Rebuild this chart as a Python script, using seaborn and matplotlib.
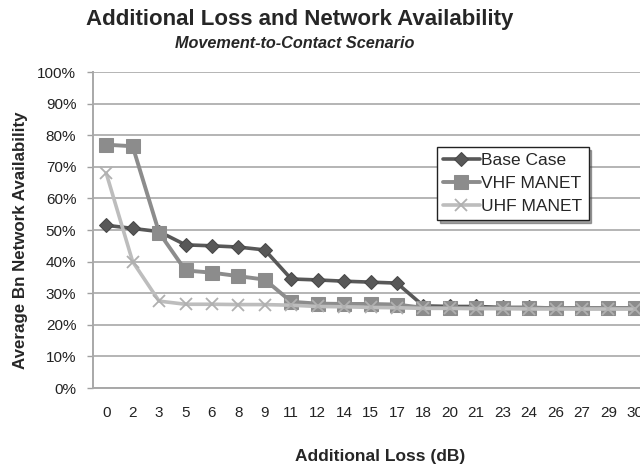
import matplotlib
matplotlib.use("Agg")
import matplotlib.pyplot as plt
import seaborn as sns
import numpy as np
import pandas as pd
from matplotlib.ticker import PercentFormatter

# Additional loss steps (dB) shown as category labels
loss_db = ["0", "2", "3", "5", "6", "8", "9", "11", "12", "14", "15",
           "17", "18", "20", "21", "23", "24", "26", "27", "29", "30"]

# Average battalion network availability (%)
base_case = [51.5, 50.5, 49.5, 45.3, 45.0, 44.6, 43.7, 34.5, 34.2, 33.8, 33.5,
             33.2, 26.0, 25.8, 25.8, 25.5, 25.5, 25.3, 25.3, 25.3, 25.3]
vhf_manet = [77.0, 76.5, 49.2, 37.2, 36.5, 35.4, 34.3, 27.3, 26.7, 26.6, 26.6,
             26.4, 25.4, 25.3, 25.3, 25.3, 25.3, 25.3, 25.2, 25.2, 25.2]
uhf_manet = [68.0, 40.0, 27.5, 26.5, 26.5, 26.4, 26.4, 26.2, 25.8, 25.7, 25.5,
             25.4, 25.2, 25.2, 25.1, 25.1, 25.0, 25.0, 25.0, 25.0, 25.0]

series_names = ["Base Case", "VHF MANET", "UHF MANET"]

sns.set_theme(style="white")
plt.rcParams["font.family"] = ["Liberation Sans", "DejaVu Sans"]

fig = plt.figure(figsize=(6.4, 4.66), dpi=100)
# plot area runs slightly past the right edge, so the last column is clipped
ax = fig.add_axes([93 / 640, 78 / 466, 555 / 640, 316 / 466])

pos = np.arange(len(loss_db))
df = pd.DataFrame({"pos": pos, "Base Case": base_case,
                   "VHF MANET": vhf_manet, "UHF MANET": uhf_manet})

styles = {
    "Base Case": dict(color="#585858", marker="D", markersize=7, linewidth=2.6,
                      markeredgecolor="#484848"),
    "VHF MANET": dict(color="#8c8c8c", marker="s", markersize=9.5, linewidth=2.8,
                      markeredgecolor="#8c8c8c"),
    "UHF MANET": dict(color="#bdbdbd", marker="x", markersize=9, linewidth=2.6,
                      markeredgewidth=1.3, markeredgecolor="#b0b0b0"),
}

for name in series_names:
    sns.lineplot(data=df, x="pos", y=name, ax=ax, label=name, **styles[name])

ax.set_xlim(-0.5, len(loss_db) - 0.5)
ax.set_ylim(0, 100)
ax.set_xticks(pos)
ax.set_xticklabels(loss_db)
ax.set_yticks(np.arange(0, 101, 10))
ax.yaxis.set_major_formatter(PercentFormatter(decimals=0))
ax.tick_params(axis="both", labelsize=11, colors="#222222", pad=8)
ax.tick_params(axis="y", length=4, width=1, color="#a0a0a0", direction="out", left=True)
ax.tick_params(axis="x", length=0, pad=13)

ax.grid(axis="y", color="#b4b4b4", linewidth=1.4)
ax.set_axisbelow(True)
for side in ["top", "right"]:
    ax.spines[side].set_visible(False)
for side in ["left", "bottom"]:
    ax.spines[side].set_color("#a8a8a8")
    ax.spines[side].set_linewidth(1.4)

ax.set_xlabel("Additional Loss (dB)", fontsize=12.5, fontweight="bold", va="center")
ax.xaxis.set_label_coords(0.517, -0.218)
ax.set_ylabel("Average Bn Network Availability", fontsize=12.2, fontweight="bold", va="center")
ax.yaxis.set_label_coords(-0.1315, 0.468)

fig.text(300 / 640, 1 - 19 / 466, "Additional Loss and Network Availability",
         ha="center", va="center", fontsize=16, fontweight="bold")
fig.text(295 / 640, 1 - 43 / 466, "Movement-to-Contact Scenario",
         ha="center", va="center", fontsize=11.7, fontweight="bold", style="italic")

leg = ax.legend(loc="upper left", bbox_to_anchor=(0.62, 0.763), frameon=True,
                fancybox=False, shadow=True, fontsize=12.5, edgecolor="#222222",
                handlelength=2.1, handletextpad=0.1, borderpad=0.35,
                labelspacing=0.45, borderaxespad=0)
leg.get_frame().set_linewidth(1.0)

fig.savefig("out.png", dpi=100)
